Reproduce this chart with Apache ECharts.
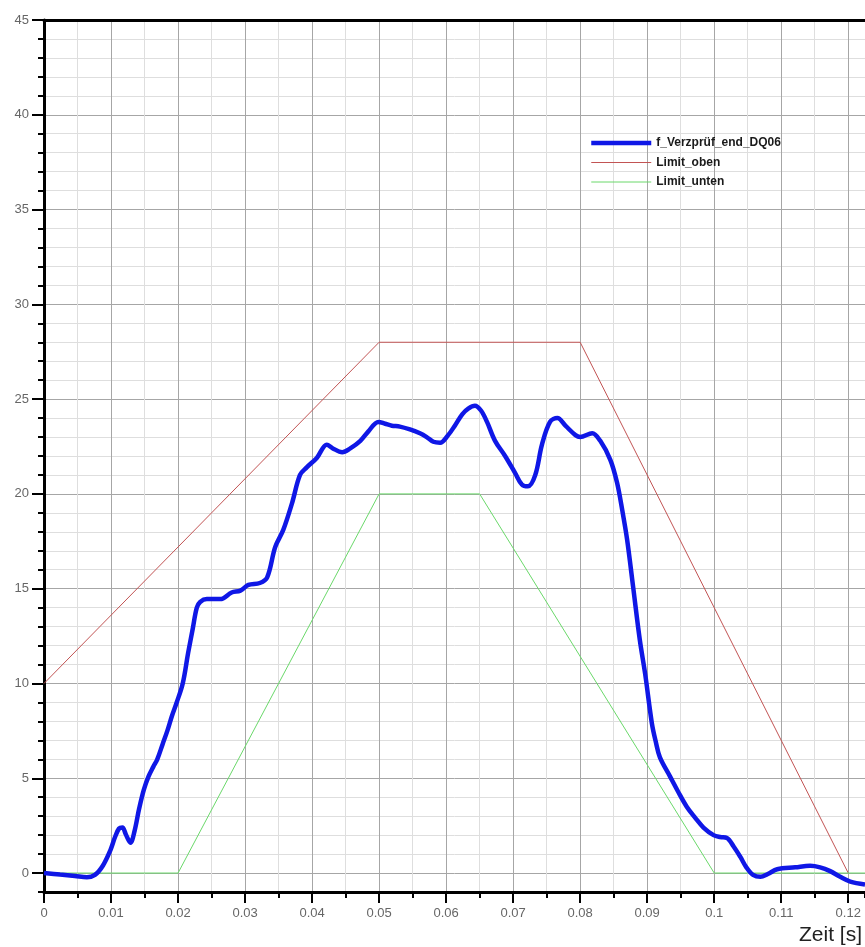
<!DOCTYPE html>
<html>
<head>
<meta charset="utf-8">
<title>f_Verzprüf_end_DQ06</title>
<script src="https://cdn.jsdelivr.net/npm/echarts@6/dist/echarts.min.js"></script>
<style>
  html, body { margin: 0; padding: 0; background: #ffffff; }
  #chart { width: 865px; height: 947px; }
</style>
</head>
<body>
<div id="chart"></div>
<script>
// Measured force curve: time [s] and force values
const timeS = [
  0, 0.0024, 0.0046, 0.0064, 0.0076, 0.0088, 0.0099, 0.0106, 0.0112, 0.0117,
  0.0122, 0.0129, 0.0135, 0.0142, 0.0149, 0.0156, 0.0163, 0.0169, 0.0177,
  0.0184, 0.0191, 0.0198, 0.0207, 0.0215, 0.0222, 0.0228, 0.0233, 0.0243, 0.0263,
  0.028, 0.0293, 0.0305, 0.0322, 0.0333, 0.0345, 0.0357, 0.037, 0.0382, 0.0392,
  0.0407, 0.0422, 0.0431, 0.0445, 0.0457, 0.0472, 0.0484, 0.0499, 0.0509, 0.0519,
  0.0531, 0.0546, 0.0561, 0.0571, 0.0581, 0.0591, 0.0603, 0.0613, 0.0624, 0.0633,
  0.0643, 0.0652, 0.0661, 0.0673, 0.0688, 0.0703, 0.0713, 0.0722, 0.0733, 0.0743,
  0.0755, 0.0766, 0.0778, 0.0793, 0.08, 0.0818, 0.083, 0.0845, 0.0855, 0.0863,
  0.087, 0.0879, 0.0889, 0.0897, 0.0907, 0.0913, 0.0919, 0.0934, 0.0946, 0.0959,
  0.0972, 0.0984, 0.0999, 0.1009, 0.1019, 0.1029, 0.1039, 0.1048, 0.1058, 0.1069,
  0.108, 0.1094, 0.1121, 0.1143, 0.1158, 0.1173, 0.1188, 0.1203, 0.1225
];
const forceValues = [
  0, -0.08, -0.15, -0.22, -0.1, 0.4, 1.2, 1.9, 2.35, 2.4,
  2.05, 1.6, 2.2, 3.4, 4.4, 5.1, 5.6, 6.0, 6.8,
  7.5, 8.3, 9.0, 10.0, 11.6, 12.9, 14.0, 14.3, 14.45, 14.45,
  14.8, 14.9, 15.2, 15.3, 15.6, 17.2, 18.1, 19.5, 21.0, 21.4,
  21.9, 22.6, 22.4, 22.2, 22.4, 22.8, 23.3, 23.8, 23.7, 23.6,
  23.55, 23.4, 23.2, 23.0, 22.75, 22.7, 23.1, 23.6, 24.2, 24.5,
  24.65, 24.4, 23.8, 22.8, 22.0, 21.1, 20.5, 20.4, 21.0, 22.6,
  23.8, 24.0, 23.6, 23.1, 23.0, 23.2, 22.8, 21.8, 20.6, 19.1,
  17.6, 15.1, 12.3, 10.5, 7.9, 6.9, 6.1, 5.1, 4.3, 3.5,
  2.9, 2.4, 2.0, 1.9, 1.85, 1.4, 0.85, 0.3, -0.1, -0.2,
  -0.05, 0.2, 0.3, 0.38, 0.3, 0.1, -0.2, -0.45, -0.6
];

// Upper tolerance band
const limitObenT = [0, 0.05, 0.08, 0.12];
const limitObenV = [10, 28, 28, 0];

// Lower tolerance band
const limitUntenT = [0, 0.02, 0.05, 0.065, 0.1, 0.1225];
const limitUntenV = [0, 0, 20, 20, 0, 0];

// Labelled ticks
const xTickLabels = [0, 0.01, 0.02, 0.03, 0.04, 0.05, 0.06, 0.07, 0.08, 0.09, 0.1, 0.11, 0.12];
const yTickLabels = [0, 5, 10, 15, 20, 25, 30, 35, 40, 45];

const zip = (xs, ys) => xs.map((x, i) => [x, ys[i]]);

const FONT = '"Liberation Sans", Arial, sans-serif';
const MAJOR = '#a6a6a6';
const MINOR = '#dedede';
const X_MIN = 0, X_MAX = 0.1225, Y_MIN = -1, Y_MAX = 45;

const BLUE = '#0f17e6';
const RED = '#c25454';
const GREEN = '#6ad86a';

const chart = echarts.init(document.getElementById('chart'), null, { renderer: 'canvas' });

// legend entries show the plain line only (no marker dot)
const legendItem = (name, width) => ({
  name,
  itemStyle: { opacity: 0 },
  lineStyle: { width }
});

chart.setOption({
  backgroundColor: '#ffffff',
  animation: false,
  grid: { left: 44, right: 0, top: 20, bottom: 55, containLabel: false },
  legend: {
    orient: 'vertical',
    left: 584,
    top: 132,
    itemWidth: 60,
    itemHeight: 12,
    itemGap: 7.5,
    textStyle: { fontFamily: FONT, fontSize: 12, fontWeight: 'bold', color: '#1a1a1a' },
    data: [
      legendItem('f_Verzprüf_end_DQ06', 4.5),
      legendItem('Limit_oben', 1),
      legendItem('Limit_unten', 1)
    ]
  },
  xAxis: [
    {
      type: 'value', position: 'bottom', min: X_MIN, max: X_MAX, interval: 0.005,
      axisLine: { show: true, onZero: false, lineStyle: { color: '#000', width: 3 } },
      axisTick: { show: true, length: 6, lineStyle: { color: '#000', width: 2 } },
      axisLabel: { show: false },
      splitLine: { show: true, lineStyle: { color: [MAJOR, MINOR], width: 1 } }
    },
    {
      type: 'value', position: 'bottom', min: X_MIN, max: X_MAX,
      axisLine: { show: false, onZero: false },
      axisTick: { show: true, length: 11, customValues: xTickLabels, lineStyle: { color: '#000', width: 2 } },
      axisLabel: {
        show: true, customValues: xTickLabels, margin: 15,
        fontFamily: FONT, fontSize: 13, color: '#666',
        formatter: v => String(+(+v).toFixed(3))
      },
      splitLine: { show: false }
    },
    {
      type: 'value', position: 'top', min: X_MIN, max: X_MAX,
      axisLine: { show: true, onZero: false, lineStyle: { color: '#000', width: 3 } },
      axisTick: { show: false },
      axisLabel: { show: false },
      splitLine: { show: false }
    }
  ],
  yAxis: [
    {
      type: 'value', position: 'left', min: Y_MIN, max: Y_MAX, interval: 1,
      axisLine: { show: true, onZero: false, lineStyle: { color: '#000', width: 3 } },
      axisTick: { show: true, length: 6, lineStyle: { color: '#000', width: 2 } },
      axisLabel: { show: false },
      splitLine: { show: true, lineStyle: { color: [MINOR, MAJOR, MINOR, MINOR, MINOR], width: 1 } }
    },
    {
      type: 'value', position: 'left', min: Y_MIN, max: Y_MAX,
      axisLine: { show: false, onZero: false },
      axisTick: { show: true, length: 12, customValues: yTickLabels, lineStyle: { color: '#000', width: 2 } },
      axisLabel: {
        show: true, customValues: yTickLabels, margin: 15,
        fontFamily: FONT, fontSize: 13, color: '#666'
      },
      splitLine: { show: false }
    }
  ],
  graphic: [
    {
      type: 'text',
      right: 3,
      bottom: 1,
      style: { text: 'Zeit [s]', font: '21px ' + FONT, fill: '#222' }
    }
  ],
  series: [
    {
      name: 'f_Verzprüf_end_DQ06',
      type: 'line',
      xAxisIndex: 0, yAxisIndex: 0,
      data: zip(timeS, forceValues),
      symbol: 'none',
      smooth: 0.35,
      z: 5,
      lineStyle: { color: BLUE, width: 4.5 },
      itemStyle: { color: BLUE }
    },
    {
      name: 'Limit_oben',
      type: 'line',
      xAxisIndex: 0, yAxisIndex: 0,
      data: zip(limitObenT, limitObenV),
      symbol: 'none',
      z: 3,
      lineStyle: { color: RED, width: 1 },
      itemStyle: { color: RED }
    },
    {
      name: 'Limit_unten',
      type: 'line',
      xAxisIndex: 0, yAxisIndex: 0,
      data: zip(limitUntenT, limitUntenV),
      symbol: 'none',
      z: 4,
      lineStyle: { color: GREEN, width: 1 },
      itemStyle: { color: GREEN }
    }
  ]
});
</script>
</body>
</html>
